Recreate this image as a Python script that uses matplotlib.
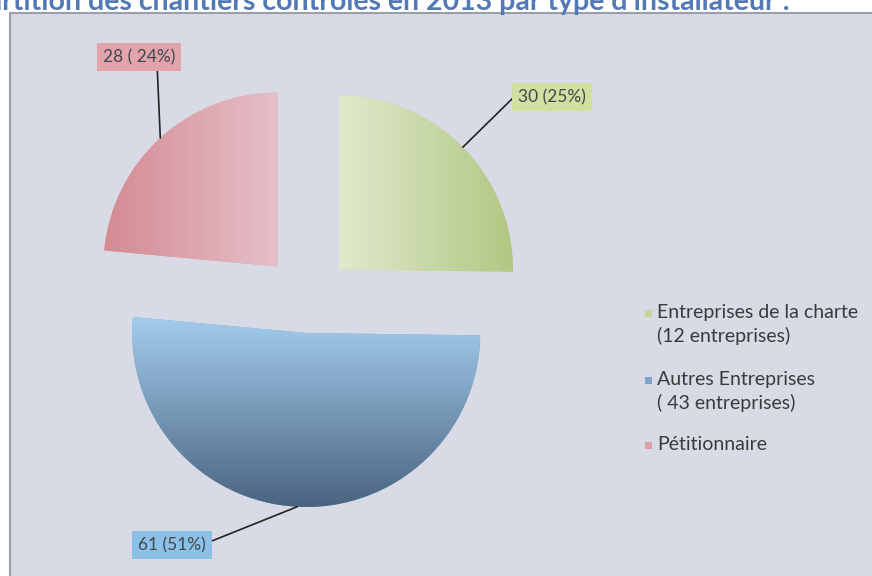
import matplotlib.pyplot as plt
import numpy as np
from matplotlib.patches import Rectangle
from matplotlib.colors import LinearSegmentedColormap

plt.rcParams['font.family'] = ['Lato', 'DejaVu Sans']

# data
categories = ["Entreprises de la charte\n(12 entreprises)",
              "Autres Entreprises\n( 43 entreprises)",
              "Pétitionnaire"]
counts = [30, 61, 28]
value_labels = ["30 (25%)", "61 (51%)", "28 ( 24%)"]
title = "Répartition des chantiers contrôlés en 2013 par type d'installateur :"

# styling
explode = [0.25, 0.19, 0.26]   # fraction of radius
radius = 174
flat_colors = ['#c3d697', '#7fa6c9', '#dca2aa']
gradients = [('#e0eacd', '#b2c783', 'h'),
             ('#a4cdee', '#4a6480', 'v'),
             ('#d48a93', '#e6c0c9', 'h')]
label_colors = ['#cfe0a0', '#8cc0e6', '#e3a3aa']

W, H = 872, 576
fig = plt.figure(figsize=(W / 100, H / 100), dpi=100)
fig.patch.set_facecolor('white')
ax = fig.add_axes([0, 0, 1, 1])

# chart frame
ax.add_patch(Rectangle((10, -5), W, H - 13 + 5, facecolor='#d8dbe5',
                       edgecolor='#9a9ea8', lw=1.5, zorder=0))

wedges, _ = ax.pie(counts, explode=[e * radius for e in explode],
                   startangle=90, counterclock=False,
                   center=(308, H - 300), radius=radius, colors=flat_colors,
                   wedgeprops=dict(linewidth=0), frame=True)

# gradient fill clipped to each wedge
for w, (c1, c2, d) in zip(wedges, gradients):
    ext = w.get_path().get_extents()
    cmap = LinearSegmentedColormap.from_list('g', [c1, c2])
    if d == 'h':
        grad = np.tile(np.linspace(0, 1, 256), (2, 1))
    else:
        grad = np.tile(np.linspace(0, 1, 256)[:, None], (1, 2))
    im = ax.imshow(grad, extent=[ext.x0, ext.x1, ext.y0, ext.y1], cmap=cmap,
                   origin='upper', aspect='auto', zorder=w.get_zorder() + 0.1)
    im.set_clip_path(w)

# value labels with leader lines, anchored at the middle of each arc
label_pos = [(552, H - 97), (172, H - 545), (139, H - 57)]
relpos = [(0.0, 0.75), (1.0, 0.6), (0.75, 0.0)]
for w, txt, pos, rp, lc in zip(wedges, value_labels, label_pos, relpos, label_colors):
    mid = np.deg2rad((w.theta1 + w.theta2) / 2)
    xy = (w.center[0] + w.r * np.cos(mid), w.center[1] + w.r * np.sin(mid))
    ax.annotate(txt, xy=xy, xytext=pos, ha='center', va='center',
                fontsize=12.5, color='#404850', zorder=5,
                bbox=dict(boxstyle='square,pad=0.33', fc=lc, ec='none'),
                arrowprops=dict(arrowstyle='-', color='#222222', lw=1.2,
                                relpos=rp, shrinkA=0, shrinkB=0))

# legend, marker aligned with the first line of each entry
leg_tops = [313, 380, 445]
for lab, col, y in zip(categories, flat_colors, leg_tops):
    ax.add_patch(Rectangle((645, H - y - 4), 7, 7, facecolor=col,
                           edgecolor='none', zorder=5))
    for k, line in enumerate(lab.split('\n')):
        ax.text(657, H - y - 5 - 24 * k, line, ha='left', va='baseline',
                fontsize=14, color='#3a3a3a', zorder=5)

ax.set_xlim(0, W)
ax.set_ylim(0, H)
ax.axis('off')

# title, cut at the top edge as in the scan
fig.text(790 / W, 1 - 10 / H, title, ha='right', va='baseline',
         fontsize=20.5, fontweight='bold', color='#5079b5')

fig.savefig('out.png', dpi=100)
